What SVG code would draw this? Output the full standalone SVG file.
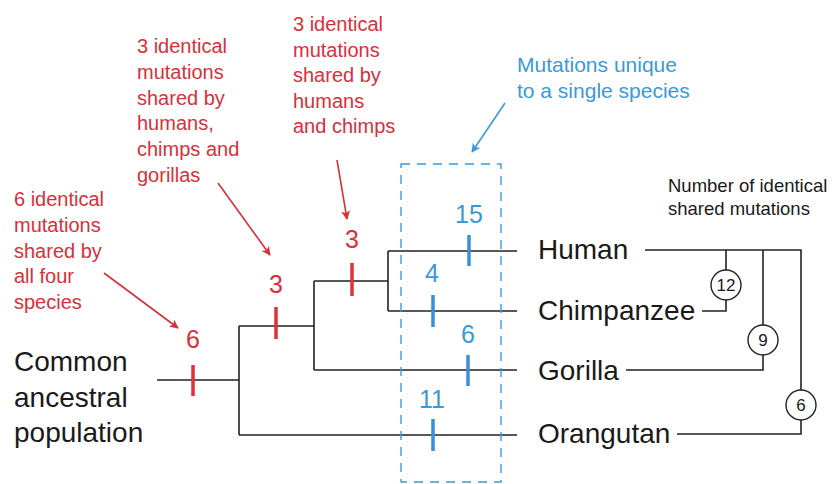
<svg xmlns="http://www.w3.org/2000/svg" width="835" height="484" viewBox="0 0 835 484">
<defs>
<style>
.red{fill:#d8303a;font-family:"Liberation Sans",Arial,sans-serif;font-size:20px}
.num{font-size:25px}
.blue{fill:#3a9ad9;font-family:"Liberation Sans",Arial,sans-serif}
.blk{fill:#1a1a1a;font-family:"Liberation Sans",Arial,sans-serif}
.big{font-size:28px}
.ln{stroke:#222;stroke-width:1.6;fill:none}
.rt{stroke:#e0303a;stroke-width:3.5}
.bt{stroke:#3a8fd6;stroke-width:3.5}
.ra{stroke:#d8303a;stroke-width:1.6;fill:none}
.ba{stroke:#3a9ad9;stroke-width:1.6;fill:none}
.circ{fill:#fff;stroke:#222;stroke-width:1.4}
.ct{font-size:17px;text-anchor:middle}
</style>
<marker id="mr" viewBox="0 0 10 10" refX="9" refY="5" markerWidth="9" markerHeight="9" orient="auto" markerUnits="userSpaceOnUse"><path d="M0,0 L10,5 L0,10 L2.5,5 z" fill="#d8303a"/></marker>
<marker id="mb" viewBox="0 0 10 10" refX="9" refY="5" markerWidth="9" markerHeight="9" orient="auto" markerUnits="userSpaceOnUse"><path d="M0,0 L10,5 L0,10 L2.5,5 z" fill="#3a9ad9"/></marker>
</defs>
<rect width="835" height="484" fill="#fff"/>

<g id="connectors">
<path class="ln" d="M157,380 H239 M239,326 V435 M239,326 H314 M239,435 H517 M314,281 V370 M314,281 H388 M314,370 H517 M388,251 V311 M388,251 H517 M388,311 H517"/>
<path class="ln" d="M645,250 H801 V434 H677 M726,250 V311 H702 M763,250 V370 H626"/>
<rect x="401" y="164" width="100" height="318" fill="none" stroke="#3a9ad9" stroke-width="1.4" stroke-dasharray="9,7"/>
<path class="ra" d="M337,160 L347,219" marker-end="url(#mr)"/>
<path class="ra" d="M218,183 L270,255" marker-end="url(#mr)"/>
<path class="ra" d="M104,273 L178,328" marker-end="url(#mr)"/>
<path class="ba" d="M505,103 L472,152" marker-end="url(#mb)"/>
</g>

<g id="ticks">
<line class="rt" x1="193" y1="365" x2="193" y2="396"/>
<line class="rt" x1="276" y1="307" x2="276" y2="339"/>
<line class="rt" x1="352" y1="263" x2="352" y2="296"/>
<line class="bt" x1="469" y1="235" x2="469" y2="266"/>
<line class="bt" x1="433" y1="295" x2="433" y2="327"/>
<line class="bt" x1="468" y1="355" x2="468" y2="386"/>
<line class="bt" x1="433" y1="419" x2="433" y2="451"/>
</g>

<g id="counts" text-anchor="middle">
<text class="red num" x="193" y="348">6</text>
<text class="red num" x="276" y="293">3</text>
<text class="red num" x="352" y="248">3</text>
<text class="blue num" x="469" y="223">15</text>
<text class="blue num" x="432" y="282">4</text>
<text class="blue num" x="468" y="343">6</text>
<text class="blue num" x="432" y="408">11</text>
</g>

<g id="label-all4">
<text class="red" x="14" y="206">6 identical</text>
<text class="red" x="14" y="232">mutations</text>
<text class="red" x="14" y="258">shared by</text>
<text class="red" x="14" y="283">all four</text>
<text class="red" x="14" y="309">species</text>
</g>
<g id="label-hcg">
<text class="red" x="137" y="53">3 identical</text>
<text class="red" x="137" y="79">mutations</text>
<text class="red" x="137" y="105">shared by</text>
<text class="red" x="137" y="130">humans,</text>
<text class="red" x="137" y="156">chimps and</text>
<text class="red" x="137" y="182">gorillas</text>
</g>
<g id="label-hc">
<text class="red" x="293" y="31">3 identical</text>
<text class="red" x="293" y="57">mutations</text>
<text class="red" x="293" y="82">shared by</text>
<text class="red" x="293" y="108">humans</text>
<text class="red" x="293" y="133">and chimps</text>
</g>
<g id="label-unique">
<text class="blue" x="517" y="72" font-size="21">Mutations unique</text>
<text class="blue" x="517" y="98" font-size="21">to a single species</text>
</g>
<g id="label-number">
<text class="blk" x="668" y="192" font-size="18.5">Number of identical</text>
<text class="blk" x="668" y="215" font-size="18.5">shared mutations</text>
</g>

<g id="root">
<text class="blk big" x="14" y="371">Common</text>
<text class="blk big" x="14" y="407">ancestral</text>
<text class="blk big" x="14" y="442">population</text>
</g>
<g id="human"><text class="blk big" x="538" y="259">Human</text></g>
<g id="chimpanzee"><text class="blk big" x="538" y="320">Chimpanzee</text></g>
<g id="gorilla"><text class="blk big" x="538" y="380">Gorilla</text></g>
<g id="orangutan"><text class="blk big" x="538" y="443">Orangutan</text></g>

<g id="c12"><circle class="circ" cx="726" cy="285" r="15"/><text class="blk ct" x="726" y="291">12</text></g>
<g id="c9"><circle class="circ" cx="763" cy="340" r="15"/><text class="blk ct" x="763" y="346">9</text></g>
<g id="c6"><circle class="circ" cx="801" cy="405" r="15"/><text class="blk ct" x="801" y="411">6</text></g>
</svg>
